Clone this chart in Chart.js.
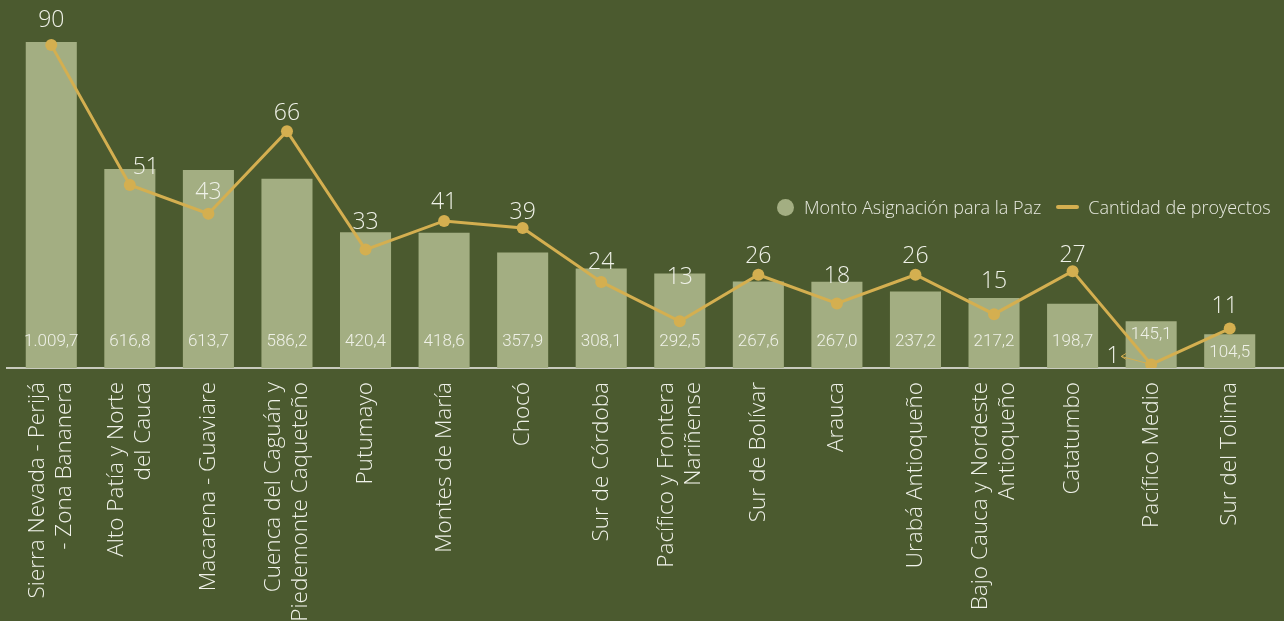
<!DOCTYPE html>
<html lang="es">
<head>
<meta charset="utf-8">
<style>
  html, body { margin: 0; padding: 0; background: #4b5a2f; }
  #wrap { position: relative; width: 1284px; height: 621px; }
  #legend {
    position: absolute; left: 777px; top: 195px;
    display: flex; align-items: center;
    font: 300 18px "Open Sans", sans-serif; color: #e8eae0; white-space: nowrap;
  }
  .dot { width: 17px; height: 17px; border-radius: 50%; background: #a3ae82; margin-right: 10px; }
  .raya { width: 23px; height: 4px; border-radius: 2px; background: #d4af50; margin: 0 9px 0 15px; }
</style>
<script src="https://cdn.jsdelivr.net/npm/chart.js@4"></script>
</head>
<body>
<div id="wrap">
  <canvas id="chart" width="1284" height="621"></canvas>
  <div id="legend"><span class="dot"></span>Monto Asignación para la Paz<span class="raya"></span>Cantidad de proyectos</div>
</div>
<script>
const regiones = [
  ['Sierra Nevada - Perijá', '- Zona Bananera'],
  ['Alto Patía y Norte', 'del Cauca'],
  'Macarena - Guaviare',
  ['Cuenca del Caguán y', 'Piedemonte Caqueteño'],
  'Putumayo',
  'Montes de María',
  'Chocó',
  'Sur de Córdoba',
  ['Pacífico y Frontera', 'Nariñense'],
  'Sur de Bolívar',
  'Arauca',
  'Urabá Antioqueño',
  ['Bajo Cauca y Nordeste', 'Antioqueño'],
  'Catatumbo',
  'Pacífico Medio',
  'Sur del Tolima'
];
const montos = [1009.7, 616.8, 613.7, 586.2, 420.4, 418.6, 357.9, 308.1, 292.5, 267.6, 267.0, 237.2, 217.2, 198.7, 145.1, 104.5];
const proyectos = [90, 51, 43, 66, 33, 41, 39, 24, 13, 26, 18, 26, 15, 27, 1, 11];

// label placement tweaks (pixels), like the original avoids overlaps
const subeProyecto = [25, 18, 21, 18, 27, 18, 16, 19, 44, 18, 27, 18, 33, 16, 8, 22];
const correProyecto = [0, 16, 0, 0, 0, 0, 0, 0, 0, 0, 0, 0, 0, 0, -38, -5];
const subeMonto = [26, 26, 26, 26, 26, 26, 26, 26, 26, 26, 26, 26, 26, 26, 33, 15];

const salvia = '#a3ae82';
const dorado = '#d4af50';
const texto = '#eff1e8';

const formato = (v) => {
  const [ent, dec] = v.toFixed(1).split('.');
  return ent.replace(/\B(?=(\d{3})+(?!\d))/g, '.') + ',' + dec;
};

const etiquetas = {
  id: 'etiquetas',
  beforeDatasetsDraw(chart) {
    const { ctx, chartArea } = chart;
    ctx.save();
    ctx.strokeStyle = '#f2f2ee';
    ctx.lineWidth = 1.5;
    ctx.beginPath();
    ctx.moveTo(6, chartArea.bottom);
    ctx.lineTo(chart.width, chartArea.bottom);
    ctx.stroke();

    // category names, rotated, each block centred on its tick
    const xs = chart.scales.x;
    ctx.fillStyle = texto;
    ctx.font = '300 22.5px "Open Sans"';
    ctx.textAlign = 'right';
    ctx.textBaseline = 'middle';
    regiones.forEach((r, i) => {
      const lineas = Array.isArray(r) ? r : [r];
      ctx.save();
      ctx.translate(xs.getPixelForTick(i), chartArea.bottom + 14);
      ctx.rotate(-Math.PI / 2);
      lineas.forEach((l, j) => {
        ctx.fillText(l, 0, (j - (lineas.length - 1) / 2) * 27);
      });
      ctx.restore();
    });
    ctx.restore();
  },
  afterDatasetsDraw(chart) {
    const { ctx, chartArea } = chart;
    const puntos = chart.getDatasetMeta(0).data;
    const barras = chart.getDatasetMeta(1).data;
    ctx.save();
    ctx.textAlign = 'center';
    ctx.textBaseline = 'middle';
    ctx.fillStyle = texto;

    ctx.font = '300 17px Roboto';
    barras.forEach((b, i) => {
      ctx.fillText(formato(montos[i]), b.x, chartArea.bottom - subeMonto[i]);
    });

    ctx.font = '300 23px "Open Sans"';
    puntos.forEach((p, i) => {
      const x = p.x + correProyecto[i];
      const y = p.y - subeProyecto[i];
      ctx.fillText(String(proyectos[i]), x, y);
      if (correProyecto[i] < -20) {
        ctx.strokeStyle = dorado;
        ctx.lineWidth = 1;
        ctx.beginPath();
        ctx.moveTo(p.x, p.y);
        ctx.lineTo(x + 8, y);
        ctx.moveTo(x + 13, y - 3);
        ctx.lineTo(x + 8, y);
        ctx.lineTo(x + 13, y + 3);
        ctx.stroke();
      }
    });
    ctx.restore();
  }
};

new Chart(document.getElementById('chart'), {
  data: {
    labels: regiones,
    datasets: [
      {
        type: 'line',
        label: 'Cantidad de proyectos',
        data: proyectos,
        yAxisID: 'y1',
        borderColor: dorado,
        backgroundColor: dorado,
        borderWidth: 3,
        pointRadius: 6,
        pointBorderWidth: 0,
        pointBackgroundColor: dorado,
        tension: 0,
        order: 1
      },
      {
        type: 'bar',
        label: 'Monto Asignación para la Paz',
        data: montos,
        yAxisID: 'y',
        backgroundColor: salvia,
        barPercentage: 0.65,
        categoryPercentage: 1,
        order: 2
      }
    ]
  },
  options: {
    responsive: false,
    animation: false,
    layout: { padding: { top: 20, left: 12, right: 15, bottom: 0 } },
    plugins: {
      legend: { display: false },
      tooltip: { enabled: false }
    },
    scales: {
      x: {
        grid: { display: false, drawTicks: false },
        border: { display: false },
        ticks: { display: false },
        afterFit(scale) { scale.height = 253; }
      },
      y: { display: false, min: 0, max: 1078 },
      y1: { display: false, min: 0, max: 97, position: 'right' }
    }
  },
  plugins: [etiquetas]
});
</script>
</body>
</html>
